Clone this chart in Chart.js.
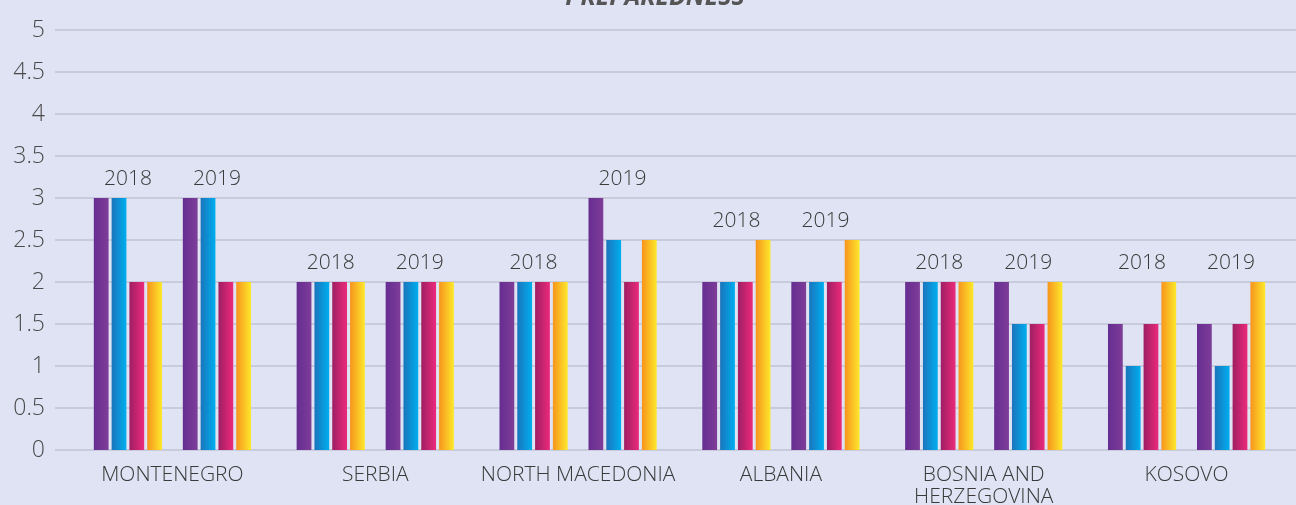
<!DOCTYPE html>
<html>
<head>
<meta charset="utf-8">
<script src="https://cdn.jsdelivr.net/npm/chart.js@4/dist/chart.umd.min.js"></script>
<style>
  html, body { margin: 0; padding: 0; background: #dfe3f3; overflow: hidden; }
  #wrap { width: 1296px; height: 505px; position: relative; }
</style>
</head>
<body>
<div id="wrap"><canvas id="prepChart"></canvas></div>
<script>
const countries = ['MONTENEGRO', 'SERBIA', 'NORTH MACEDONIA', 'ALBANIA', ['BOSNIA AND', 'HERZEGOVINA'], 'KOSOVO'];
const years = ['2018', '2019'];
const TITLE = 'PREPAREDNESS';

// four indicators per year, one value per country
const ind1_2018 = [3, 2, 2, 2, 2, 1.5];
const ind2_2018 = [3, 2, 2, 2, 2, 1];
const ind3_2018 = [2, 2, 2, 2, 2, 1.5];
const ind4_2018 = [2, 2, 2, 2.5, 2, 2];

const ind1_2019 = [3, 2, 3, 2, 2, 1.5];
const ind2_2019 = [3, 2, 2.5, 2, 1.5, 1];
const ind3_2019 = [2, 2, 2, 2, 1.5, 1.5];
const ind4_2019 = [2, 2, 2.5, 2.5, 2, 2];

const yTicks = { min: 0, max: 5, step: 0.5 };

const gradStops = [
    ['#662d91', '#7e3d98'],
    ['#1b75bc', '#00aeef'],
    ['#9e1f63', '#ec297b'],
    ['#f7941d', '#fde82b']
];

function ds(data, idx, year) {
    return {
        label: 'Indicator ' + (idx + 1) + ' ' + year,
        data: data,
        year: year,
        colorIdx: idx,
        backgroundColor: () => gradStops[idx][1]
    };
}

const datasets = [
    ds(ind1_2018, 0, '2018'), ds(ind2_2018, 1, '2018'), ds(ind3_2018, 2, '2018'), ds(ind4_2018, 3, '2018'),
    { label: '', data: countries.map(() => null), spacer: true },
    ds(ind1_2019, 0, '2019'), ds(ind2_2019, 1, '2019'), ds(ind3_2019, 2, '2019'), ds(ind4_2019, 3, '2019')
];

// gradient fill per bar, grid lines across the full width, year labels over each group
const decor = {
    id: 'decor',
    beforeDatasetsDraw(chart) {
        const ctx = chart.ctx;
        const y = chart.scales.y;
        ctx.save();
        ctx.strokeStyle = '#c8cbdb';
        ctx.lineWidth = 2;
        y.ticks.forEach(t => {
            const py = Math.round(y.getPixelForValue(t.value));
            ctx.beginPath();
            ctx.moveTo(chart.chartArea.left - 16, py);
            ctx.lineTo(chart.width, py);
            ctx.stroke();
        });
        ctx.restore();

        chart.data.datasets.forEach((d, i) => {
            if (d.spacer) return;
            const meta = chart.getDatasetMeta(i);
            meta.data.forEach(el => {
                const l = el.x - el.width / 2, r = el.x + el.width / 2;
                const g = ctx.createLinearGradient(l, 0, r, 0);
                g.addColorStop(0, gradStops[d.colorIdx][0]);
                g.addColorStop(1, gradStops[d.colorIdx][1]);
                el.options = Object.assign({}, el.options, { backgroundColor: g });
            });
        });
    },
    afterDatasetsDraw(chart) {
        const ctx = chart.ctx;
        ctx.save();
        ctx.font = '300 21px "Open Sans"';
        ctx.fillStyle = '#3a3a3a';
        ctx.textAlign = 'center';
        ctx.textBaseline = 'alphabetic';
        years.forEach(yr => {
            const idxs = chart.data.datasets.map((d, i) => d.year === yr ? i : -1).filter(i => i >= 0);
            countries.forEach((c, j) => {
                const els = idxs.map(i => chart.getDatasetMeta(i).data[j]);
                const top = Math.min(...els.map(e => e.y));
                const cx = (els[0].x + els[els.length - 1].x) / 2;
                ctx.fillText(yr, cx, top - 13);
            });
        });
        ctx.font = 'italic bold 25px "Open Sans"';
        ctx.fillStyle = '#555555';
        ctx.fillText(TITLE, 655, 5);
        ctx.restore();
    }
};

new Chart(document.getElementById('prepChart'), {
    type: 'bar',
    data: { labels: countries, datasets: datasets },
    options: {
        responsive: true,
        maintainAspectRatio: false,
        animation: false,
        events: [],
        layout: { padding: { top: 30, right: 8, left: 0, bottom: 0 } },
        datasets: {
            bar: { categoryPercentage: 0.79, barPercentage: 0.83 }
        },
        plugins: {
            legend: { display: false },
            title: { display: false },
            tooltip: { enabled: false }
        },
        scales: {
            x: {
                grid: { display: false },
                border: { display: false },
                ticks: {
                    color: '#3a3a3a',
                    font: { family: '"Open Sans"', size: 21, weight: '300', lineHeight: 1.05 },
                    padding: 6,
                    maxRotation: 0,
                    autoSkip: false
                },
                afterFit(scale) { scale.height = 55; }
            },
            y: {
                min: yTicks.min,
                max: yTicks.max,
                grid: { display: false, drawTicks: true, tickLength: 16 },
                border: { display: false },
                ticks: {
                    stepSize: yTicks.step,
                    color: '#4a4a4a',
                    font: { family: '"Open Sans"', size: 23, weight: '300' },
                    padding: 10,
                    callback: v => String(v)
                },
                afterFit(scale) { scale.width = 71; }
            }
        }
    },
    plugins: [decor]
});
</script>
</body>
</html>
